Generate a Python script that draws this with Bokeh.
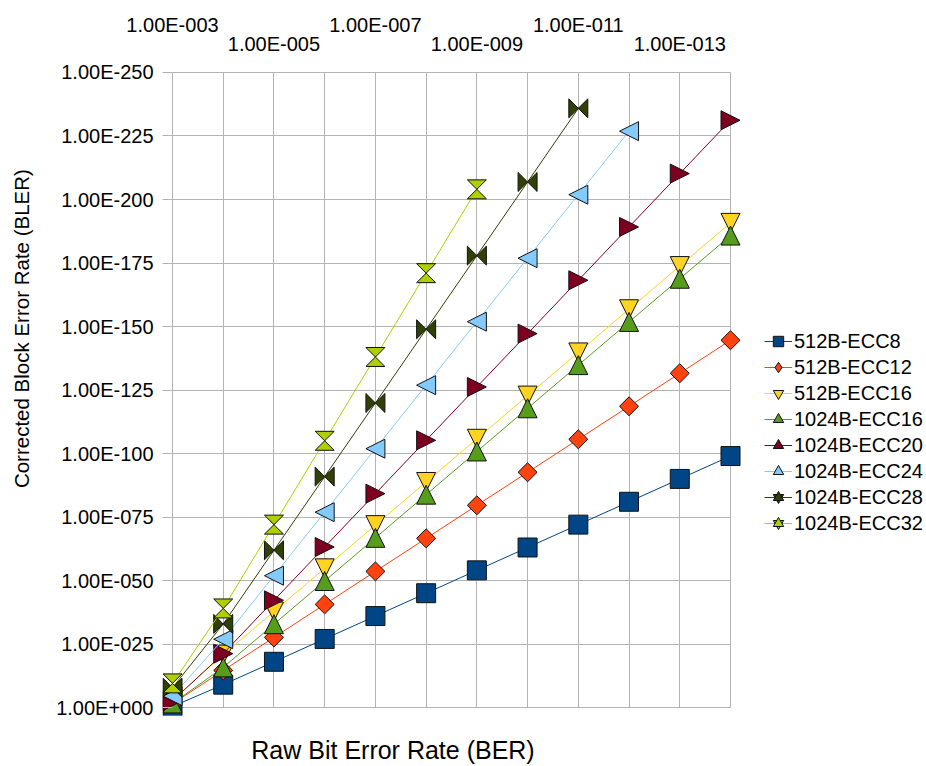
import math
from bokeh.plotting import figure
from bokeh.models import (ColumnDataSource, Range1d, LinearAxis, FixedTicker,
                          Legend, LegendItem, Grid)
from bokeh.embed import file_html
from bokeh.resources import INLINE

# ---------------- data (exponents: BER = 1e-x, BLER = 1e-y) ----------------
ber_exponent = [3, 4, 5, 6, 7, 8, 9, 10, 11, 12, 13, 14]

ecc8_512 = [0.4, 9.0, 18.0, 27.0, 36.0, 45.0, 54.0, 63.0, 72.0, 81.0, 90.0, 99.0]
ecc12_512 = [1.5, 14.6, 27.6, 40.6, 53.6, 66.6, 79.6, 92.6, 105.6, 118.6, 131.6, 144.6]
ecc16_512 = [3.0, 20.8, 37.8, 54.8, 71.8, 88.8, 105.8, 122.8, 139.8, 156.8, 173.8, 190.8]
ecc16_1024 = [1.6, 15.8, 32.8, 49.8, 66.8, 83.8, 100.8, 117.8, 134.8, 151.8, 168.8, 185.8]
ecc20_1024 = [2.6, 21.2, 42.2, 63.2, 84.2, 105.2, 126.2, 147.2, 168.2, 189.2, 210.2, 231.2]
ecc24_1024 = [4.5, 26.9, 51.9, 76.9, 101.9, 126.9, 151.9, 176.9, 201.9, 226.9]
ecc28_1024 = [7.8, 32.9, 61.9, 90.9, 119.9, 148.9, 177.9, 206.9, 235.9]
ecc32_1024 = [9.5, 39.0, 72.0, 105.0, 138.0, 171.0, 204.0]

series_names = ["512B-ECC8", "512B-ECC12", "512B-ECC16", "1024B-ECC16",
                "1024B-ECC20", "1024B-ECC24", "1024B-ECC28", "1024B-ECC32"]
series_values = [ecc8_512, ecc12_512, ecc16_512, ecc16_1024,
                 ecc20_1024, ecc24_1024, ecc28_1024, ecc32_1024]

y_ticks = [0, 25, 50, 75, 100, 125, 150, 175, 200, 225, 250]
y_tick_labels = ["1.00E+000", "1.00E-025", "1.00E-050", "1.00E-075", "1.00E-100",
                 "1.00E-125", "1.00E-150", "1.00E-175", "1.00E-200", "1.00E-225",
                 "1.00E-250"]
top_ticks_inner = [5, 9, 13]
top_labels_inner = ["1.00E-005", "1.00E-009", "1.00E-013"]
top_ticks_outer = [3, 7, 11]
top_labels_outer = ["1.00E-003", "1.00E-007", "1.00E-011"]
x_title = "Raw Bit Error Rate (BER)"
y_title = "Corrected Block Error Rate (BLER)"

# ---------------- styles / layout ----------------
colors = ["#004586", "#ff420e", "#ffd320", "#579d1c",
          "#7e0021", "#83caff", "#314004", "#aecf00"]
shape_names = ["square", "diamond", "down", "up", "right", "left", "bowtie", "hourglass"]
FONT = "Liberation Sans"
FS = "20px"
GRID = "#b3b3b3"
OUTLINE = "#111111"

FIG_W, FIG_H = 926, 766
LEFT, TOP = 162, 71          # frame starts at x=162, y=71 (canvas px)
FRAME_BOTTOM = 716
BOTTOM = FIG_H - FRAME_BOTTOM
PX_PER_DEC = 558.0 / 11.0    # x=3 at px 172, x=14 at px 730
PX_PER_UNIT = 636.0 / 250.0  # y=250 at px 72, y=0 at px 708

x_range = Range1d(3 - 10 / PX_PER_DEC, 3 + (FIG_W - 172) / PX_PER_DEC)
y_range = Range1d(-8 / PX_PER_UNIT, 250 + 1 / PX_PER_UNIT)

# title anchor positions (canvas px -> data units)
X_TITLE_POS = 3 + (392.5 - 172) / PX_PER_DEC
Y_TITLE_POS = (708 - 328.5) / PX_PER_UNIT

p = figure(width=FIG_W, height=FIG_H, x_range=x_range, y_range=y_range,
           x_axis_type=None, y_axis_type=None,
           output_backend="svg", toolbar_location=None,
           min_border_left=LEFT, min_border_right=0,
           min_border_top=TOP, min_border_bottom=BOTTOM)
p.outline_line_color = None
p.background_fill_color = "white"
p.border_fill_color = "white"

# ---------------- grids ----------------
xgrid = Grid(dimension=0, ticker=FixedTicker(ticks=ber_exponent),
             grid_line_color=GRID, grid_line_width=1)
ygrid = Grid(dimension=1, ticker=FixedTicker(ticks=y_ticks),
             grid_line_color=GRID, grid_line_width=1)
if "cross_bounds" in Grid.properties():
    xgrid.cross_bounds = (0, 250)
    ygrid.cross_bounds = (3, 14)
p.add_layout(xgrid)
p.add_layout(ygrid)

# ---------------- axes ----------------
def text_axis(ticks, labels, standoff, size=FS):
    ax = LinearAxis(ticker=FixedTicker(ticks=ticks, minor_ticks=[]),
                    major_label_overrides={t: l for t, l in zip(ticks, labels)},
                    major_tick_in=0, major_tick_out=0, minor_tick_in=0, minor_tick_out=0,
                    axis_line_color=None, major_label_standoff=standoff,
                    major_label_text_font=FONT, major_label_text_font_size=size,
                    major_label_text_color="#000000")
    return ax

yaxis = text_axis(y_ticks, y_tick_labels, 9)
yaxis.major_tick_in = 10
yaxis.major_tick_line_color = GRID
p.add_layout(yaxis, "left")

ytitle_axis = text_axis([Y_TITLE_POS], [y_title], 20, "20.5px")
ytitle_axis.major_label_orientation = "vertical"
p.add_layout(ytitle_axis, "left")

p.add_layout(text_axis(top_ticks_inner, top_labels_inner, 17), "above")
p.add_layout(text_axis(top_ticks_outer, top_labels_outer, -6), "above")

xtitle_axis = text_axis([X_TITLE_POS], [x_title], 20, "25px")
p.add_layout(xtitle_axis, "below")

# ---------------- marker shapes (unit box, y up) ----------------
HALF = 9.5
dx = HALF / PX_PER_DEC
dy = HALF / PX_PER_UNIT
shapes = {
    "square": [(-1, -1), (1, -1), (1, 1), (-1, 1)],
    "diamond": [(0, 1), (1, 0), (0, -1), (-1, 0)],
    "down": [(-1, 1), (1, 1), (0, -1)],
    "up": [(-1, -1), (1, -1), (0, 1)],
    "right": [(-1, 1), (1, 0), (-1, -1)],
    "left": [(1, 1), (-1, 0), (1, -1)],
    "bowtie": [(-1, 1), (0, 0), (1, 1), (1, -1), (0, 0), (-1, -1)],
    "hourglass": [(-1, 1), (1, 1), (0, 0), (1, -1), (-1, -1), (0, 0)],
}
legend_markers = {
    "square": ["square"],
    "diamond": ["diamond"],
    "down": ["inverted_triangle"],
    "up": ["triangle"],
    "right": ["triangle"],
    "left": ["triangle"],
    "bowtie": ["inverted_triangle", "triangle"],
    "hourglass": ["inverted_triangle", "triangle"],
}

items = []
for name, vals, color, shp in zip(series_names, series_values, colors, shape_names):
    xs = ber_exponent[:len(vals)]
    src = ColumnDataSource(dict(x=xs, y=vals))
    line_r = p.line(x="x", y="y", source=src, line_color=color, line_width=1)
    pxs = [[x + sx * dx for sx, sy in shapes[shp]] for x in xs]
    pys = [[y + sy * dy for sx, sy in shapes[shp]] for y in vals]
    p.patches(xs="xs", ys="ys", source=ColumnDataSource(dict(xs=pxs, ys=pys)),
              fill_color=color, line_color=OUTLINE, line_width=1)
    leg_rs = [line_r]
    for mk in legend_markers[shp]:
        r = p.scatter(x="x", y="y", source=src, marker=mk, size=12,
                      fill_color=color, line_color=OUTLINE, line_width=1)
        r.visible = False
        leg_rs.append(r)
    items.append(LegendItem(label=name, renderers=leg_rs))

legend = Legend(items=items, location=(602, 179), orientation="vertical",
                glyph_width=28, glyph_height=26, spacing=0, label_standoff=2,
                padding=0, margin=0, border_line_color=None, background_fill_alpha=0,
                label_text_font=FONT, label_text_font_size=FS, label_text_color="#000000")
p.add_layout(legend)

open("out.html", "w").write(file_html(p, INLINE))
